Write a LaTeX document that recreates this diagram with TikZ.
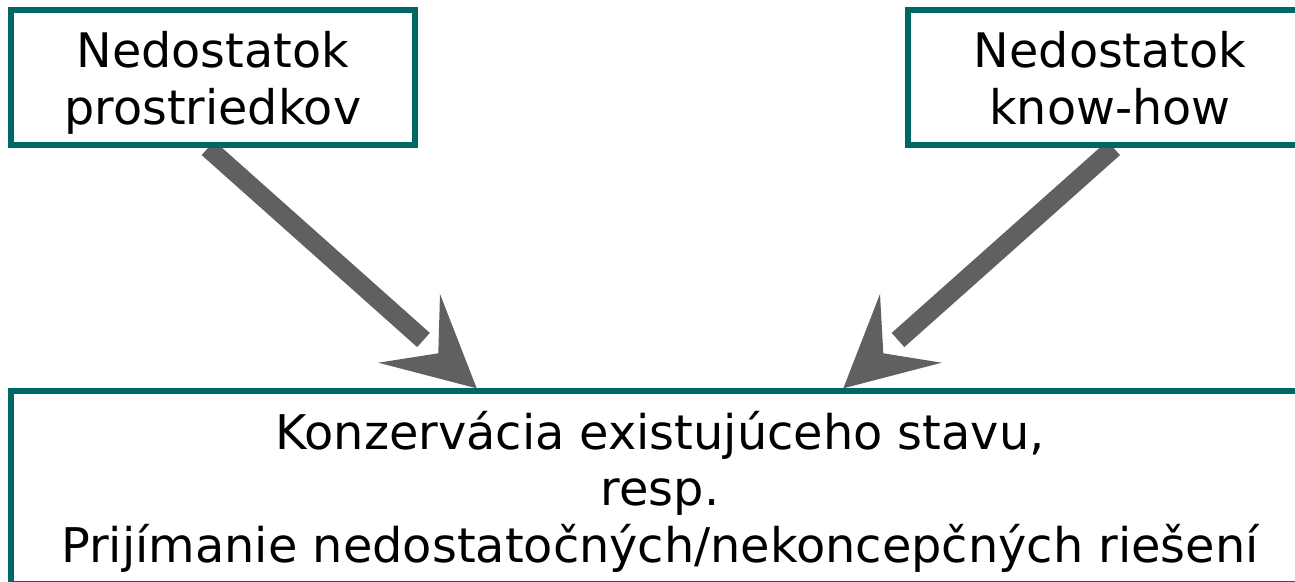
\documentclass[tikz,border=0pt]{standalone}
\usepackage{fontspec}
\setmainfont{DejaVu Sans}
\definecolor{boxteal}{RGB}{0,104,100}
\definecolor{arrowgrey}{RGB}{96,96,96}
\newcommand\topstrut[1]{\rule{0pt}{#1}}
\newcommand\botstrut[1]{\rule[-#1]{0pt}{#1}}
\tikzset{
  box/.style={draw=boxteal, line width=6pt, fill=white, align=center,
    inner sep=0pt, outer sep=0pt, anchor=north west, text=black},
  smallbox/.style={box, font=\fontsize{47.6}{57.5}\selectfont},
  bigbox/.style={box, font=\fontsize{47.8}{56.7}\selectfont},
  shaft/.style={draw=arrowgrey, line width=19pt, line cap=butt},
  head/.style={fill=arrowgrey}
}
\begin{document}
\begin{tikzpicture}[x=1pt,y=-1pt]
\useasboundingbox (0,0) rectangle (1295,581);
\clip (0,0) rectangle (1295,581);
% connector coordinates
\coordinate (s1) at (208,148);
\coordinate (e1) at (423.5,340);
\coordinate (t1) at (476.7,388.3);
\coordinate (b1a) at (440,294);
\coordinate (n1) at (438.3,353.3);
\coordinate (b1b) at (378.3,362.7);
\coordinate (s2) at (1113.7,148);
\coordinate (e2) at (898,340);
\coordinate (t2) at (843.3,388.3);
\coordinate (b2a) at (880,294);
\coordinate (n2) at (883.3,353.3);
\coordinate (b2b) at (941.7,362.7);
% shafts and heads
\draw[shaft] (s1) -- (e1);
\fill[head] (t1) -- (b1a) -- (n1) -- (b1b) -- cycle;
\draw[shaft] (s2) -- (e2);
\fill[head] (t2) -- (b2a) -- (n2) -- (b2b) -- cycle;
% boxes
\node[smallbox, minimum width=403.5pt, minimum height=134.5pt] (a) at (11,10)
  {\topstrut{48.5pt}Nedostatok\\prostriedkov\botstrut{11pt}};
\node[smallbox, minimum width=404pt, minimum height=134.5pt] (b) at (908,10)
  {\topstrut{48.5pt}Nedostatok\\know-how\botstrut{11pt}};
\node[bigbox, minimum width=1298pt, minimum height=192.7pt] (c) at (11,391)
  {\topstrut{49pt}Konzervácia existujúceho stavu,\\resp.\\Prijímanie nedostatočných/nekoncepčných riešení\botstrut{12pt}};
\end{tikzpicture}
\end{document}
